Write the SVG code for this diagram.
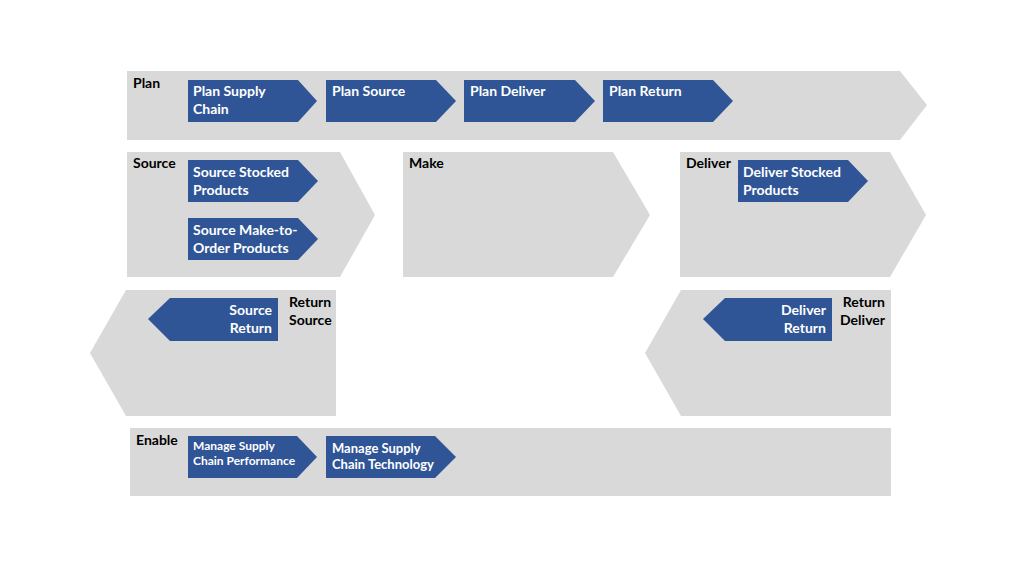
<svg xmlns="http://www.w3.org/2000/svg" width="1024" height="576" viewBox="0 0 1024 576">
<style>
.band{fill:#d9d9d9}
.chev{fill:#2f5597}
.lbl{font-family:Lato,"Liberation Sans",sans-serif;font-weight:bold;font-size:14px;fill:#000}
.wt{font-family:Lato,"Liberation Sans",sans-serif;font-weight:bold;font-size:14px;fill:#fff}
.sm{font-size:12px}
.md{font-size:13px}
.r{text-anchor:end}
</style>
<rect width="1024" height="576" fill="#fff"/>
<g id="plan">
<polygon class="band" points="127,71 900,71 927,105 900,140 127,140"/>
<text class="lbl" x="133" y="88">Plan</text>
</g>
<g id="plan-supply-chain">
<polygon class="chev" points="188,80 298,80 317,101 298,122 188,122"/>
<text class="wt" x="193" y="96">Plan Supply</text>
<text class="wt" x="193" y="114">Chain</text>
</g>
<g id="plan-source">
<polygon class="chev" points="326,80 436,80 456,101 436,122 326,122"/>
<text class="wt" x="332" y="96">Plan Source</text>
</g>
<g id="plan-deliver">
<polygon class="chev" points="464,80 575,80 595,101 575,122 464,122"/>
<text class="wt" x="470" y="96">Plan Deliver</text>
</g>
<g id="plan-return">
<polygon class="chev" points="603,80 713,80 733,101 713,122 603,122"/>
<text class="wt" x="609" y="96">Plan Return</text>
</g>
<g id="source">
<polygon class="band" points="127,152 340,152 375,215 340,277 127,277"/>
<text class="lbl" x="133" y="168">Source</text>
</g>
<g id="source-stocked">
<polygon class="chev" points="188,160 298,160 318,181 298,202 188,202"/>
<text class="wt" x="193" y="177">Source Stocked</text>
<text class="wt" x="193" y="195">Products</text>
</g>
<g id="source-mto">
<polygon class="chev" points="188,218 298,218 318,239 298,260 188,260"/>
<text class="wt" x="193" y="235">Source Make-to-</text>
<text class="wt" x="193" y="253">Order Products</text>
</g>
<g id="make">
<polygon class="band" points="403,152 613,152 650,215 613,277 403,277"/>
<text class="lbl" x="409" y="168">Make</text>
</g>
<g id="deliver">
<polygon class="band" points="680,152 890,152 926,215 890,277 680,277"/>
<text class="lbl" x="686" y="168">Deliver</text>
</g>
<g id="deliver-stocked">
<polygon class="chev" points="738,160 848,160 868,181 848,202 738,202"/>
<text class="wt" x="743" y="177">Deliver Stocked</text>
<text class="wt" x="743" y="195">Products</text>
</g>
<g id="return-source">
<polygon class="band" points="126,290 336,290 336,416 126,416 90,353"/>
<text class="lbl" x="289" y="307">Return</text>
<text class="lbl" x="289" y="325">Source</text>
</g>
<g id="source-return">
<polygon class="chev" points="170,298 278,298 278,341 170,341 148,319"/>
<text class="wt r" x="272" y="315">Source</text>
<text class="wt r" x="272" y="333">Return</text>
</g>
<g id="return-deliver">
<polygon class="band" points="681,290 891,290 891,416 681,416 645,353"/>
<text class="lbl r" x="885" y="307">Return</text>
<text class="lbl r" x="885" y="325">Deliver</text>
</g>
<g id="deliver-return">
<polygon class="chev" points="725,298 832,298 832,341 725,341 703,319"/>
<text class="wt r" x="826" y="315">Deliver</text>
<text class="wt r" x="826" y="333">Return</text>
</g>
<g id="enable">
<rect class="band" x="130" y="428" width="761" height="68"/>
<text class="lbl" x="136" y="445">Enable</text>
</g>
<g id="manage-performance">
<polygon class="chev" points="188,436 297,436 317,457 297,478 188,478"/>
<text class="wt sm" x="193" y="450">Manage Supply</text>
<text class="wt sm" x="193" y="465">Chain Performance</text>
</g>
<g id="manage-technology">
<polygon class="chev" points="326,436 435,436 456,457 435,478 326,478"/>
<text class="wt md" x="332" y="453">Manage Supply</text>
<text class="wt md" x="332" y="469">Chain Technology</text>
</g>
<g id="connectors"></g>
</svg>
